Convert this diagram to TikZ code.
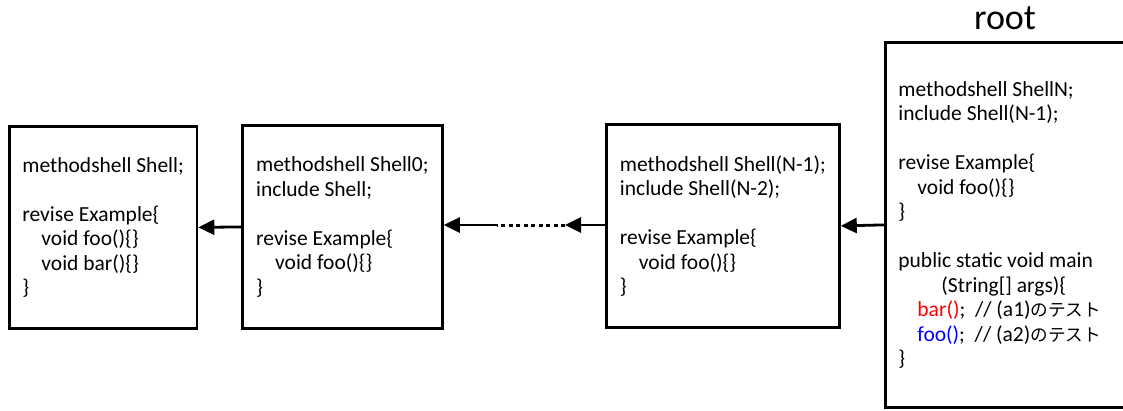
\documentclass[tikz,border=0pt]{standalone}
\usepackage{fontspec}
\setmainfont{Carlito}
\newfontfamily\cjk[Scale=0.82]{Noto Sans CJK JP}
\usetikzlibrary{arrows.meta}
\newcommand{\ind}{\hspace*{19pt}}

\begin{document}
\begin{tikzpicture}[x=1pt,y=-1pt,
    shellbox/.style={draw,line width=2.8pt,anchor=north west,inner sep=13pt,
        align=flush left,font=\fontsize{21.5}{24.5}\selectfont},
    link/.style={line width=2.8pt,-{Triangle[length=16pt,width=15pt]}}]
    \useasboundingbox (0,0) rectangle (1123,410);
    \clip (0,0) rectangle (1123,410);

    % the chain of method shells
    \node[shellbox,minimum width=187pt,minimum height=202pt] (shell) at (8,125)
        {methodshell Shell;\\[24.5pt]
         revise Example\{\\
         \ind void foo()\{\}\\
         \ind void bar()\{\}\\
         \}};
    \node[shellbox,minimum width=200pt,minimum height=203pt] (shellzero) at (241,124)
        {methodshell Shell0;\\
         include Shell;\\[24.5pt]
         revise Example\{\\
         \ind void foo()\{\}\\
         \}};
    \node[shellbox,minimum width=233pt,minimum height=203pt] (shellprev) at (605,123)
        {methodshell Shell(N-1);\\
         include Shell(N-2);\\[24.5pt]
         revise Example\{\\
         \ind void foo()\{\}\\
         \}};
    \node[shellbox,text width=260pt,minimum height=365pt] (root) at (884,41)
        {methodshell ShellN;\\
         include Shell(N-1);\\[24.5pt]
         revise Example\{\\
         \ind void foo()\{\}\\
         \}\\[24.5pt]
         public static void main\\
         \hspace*{43pt}(String[] args)\{\\
         \ind\textcolor{red}{bar()};~~// (a1){\cjk のテスト}\\
         \ind\textcolor{blue}{foo()};~~// (a2){\cjk のテスト}\\
         \}};
    \node[font=\fontsize{36}{40}\selectfont] (rootlabel) at (1005,18) {root};

    % includes point back down the chain
    \coordinate (gapR) at (565,225);
    \coordinate (gapL) at (497,225);
    \draw[link] (root.west) -- (shellprev.east);
    \draw[link] (shellprev.west |- gapR) -- (gapR);
    \draw[line width=3pt,dash pattern=on 4pt off 3.5pt] (gapR) -- (gapL);
    \draw[link] (gapL) -- (shellzero.east |- gapL);
    \draw[link] (shellzero.west) -- (shell.east);
\end{tikzpicture}
\end{document}
